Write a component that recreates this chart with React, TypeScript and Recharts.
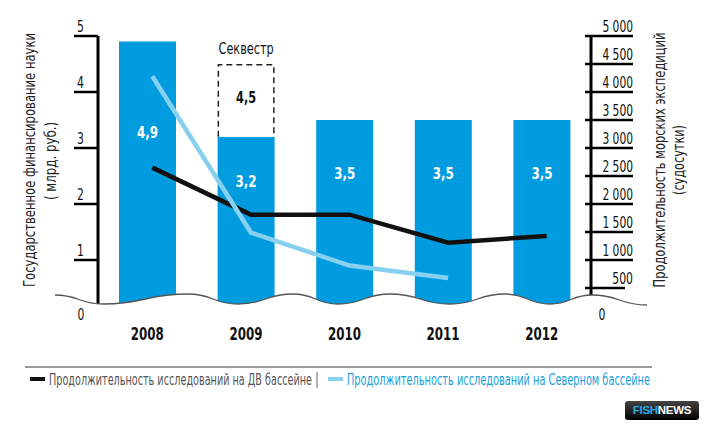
import React from 'react';
import { ComposedChart, Bar, Line, XAxis, YAxis, LabelList } from 'recharts';

// ---- data ----
const years = ['2008', '2009', '2010', '2011', '2012'];
const funding = [4.9, 3.2, 3.5, 3.5, 3.5]; // млрд руб.
const sequestrTotal: (number | null)[] = [null, 4.5, null, null, null];
const dvDays = [2650, 1810, 1810, 1310, 1430];
const northDays: (number | null)[] = [4280, 1490, 900, 680, null];
const leftTicks = [0, 1, 2, 3, 4, 5];
const rightTicks = [0, 500, 1000, 1500, 2000, 2500, 3000, 3500, 4000, 4500, 5000];
const dvName = 'Продолжительность исследований на ДВ бассейне';
const northName = 'Продолжительность исследований на Северном бассейне';
const sequestrName = 'Секвестр';
const leftTitle = ['Государственное финансирование науки', '( млрд. руб.)'];
const rightTitle = ['Продолжительность морских экспедиций', '(судосутки)'];

const data = years.map((year, i) => ({
  year,
  funding: funding[i],
  seq: sequestrTotal[i] != null ? (sequestrTotal[i] as number) - funding[i] : 0,
  seqTotal: sequestrTotal[i],
  dv: dvDays[i],
  north: northDays[i],
}));

// ---- styles ----
const FONT = "'Liberation Sans Narrow', 'DejaVu Sans Condensed', 'Roboto Condensed', sans-serif";
const BAR_BLUE = '#009cdf';
const LIGHT_BLUE = '#88d0f0';
const LEGEND_BLUE = '#1aa0dc';
const LABEL_DROP = [90, 44, 53, 53, 53];
const LEGEND_SX = 0.75;
const TITLE_SX = 0.8;

const fmt = (v: number) => String(v).replace('.', ',');
const fmtThousands = (v: number) =>
  v >= 1000 ? `${Math.floor(v / 1000)} ${String(v % 1000).padStart(3, '0')}` : String(v);
// narrow-font emulation: width of a numeric label
const numWidth = (s: string) => {
  let w = 0;
  for (const c of s) w += c === ' ' ? 3 : c === ',' ? 3.5 : 6.9;
  return w;
};

const LeftTick = (props: any) => {
  const { x, y, payload } = props;
  const v = payload.value;
  const s = String(v);
  if (v === 0) {
    return (
      <text x={x - 17} y={y + 4} textAnchor="middle" fontSize={15} fontFamily={FONT} fill="#111"
        textLength={numWidth(s)} lengthAdjust="spacingAndGlyphs">
        0
      </text>
    );
  }
  return (
    <g>
      <line x1={x - 24} x2={x} y1={y} y2={y} stroke="#000" strokeWidth={2.5} />
      <text x={x - 21} y={y - 4} fontSize={15} fontFamily={FONT} fill="#111"
        textLength={numWidth(s)} lengthAdjust="spacingAndGlyphs">
        {s}
      </text>
    </g>
  );
};

const RightTick = (props: any) => {
  const { x, y, payload } = props;
  const v = payload.value;
  if (v === 0) {
    return (
      <text x={x + 11} y={y + 4} textAnchor="middle" fontSize={15} fontFamily={FONT} fill="#111"
        textLength={numWidth('0')} lengthAdjust="spacingAndGlyphs">
        0
      </text>
    );
  }
  const s = fmtThousands(v);
  return (
    <g>
      <line x1={x - 6} x2={x + (v === 500 ? 34 : 42)} y1={y} y2={y} stroke="#000" strokeWidth={2.5} />
      <text x={x + 42} y={y - 4} textAnchor="end" fontSize={15} fontFamily={FONT} fill="#111"
        textLength={numWidth(s)} lengthAdjust="spacingAndGlyphs">
        {s}
      </text>
    </g>
  );
};

const XTick = (props: any) => {
  const { x, y, payload } = props;
  return (
    <text x={x} y={y + 24} textAnchor="middle" fontSize={17} fontWeight="bold" fontFamily={FONT} fill="#111"
      textLength={33} lengthAdjust="spacingAndGlyphs">
      {payload.value}
    </text>
  );
};

const BarValueLabel = (props: any) => {
  const { x, y, width, value, index } = props;
  return (
    <text
      x={x + width / 2}
      y={y + LABEL_DROP[index] + 6}
      textAnchor="middle"
      fontSize={16}
      fontWeight="bold"
      fontFamily={FONT}
      fill="#fff"
      textLength={21}
      lengthAdjust="spacingAndGlyphs"
    >
      {fmt(value)}
    </text>
  );
};

const SeqShape = (props: any) => {
  const { x, y, width, height } = props;
  if (!height || height <= 0) return null;
  return (
    <g>
      <rect x={x} y={y} width={width} height={height} fill="#fff" />
      <path
        d={`M${x + 0.75},${y + height} L${x + 0.75},${y + 0.75} L${x + width - 0.75},${y + 0.75} L${x + width - 0.75},${y + height}`}
        fill="none"
        stroke="#222"
        strokeWidth={1.5}
        strokeDasharray="6 4"
      />
    </g>
  );
};

const SeqLabel = (props: any) => {
  const { x, y, width, height, value } = props;
  if (value == null) return null;
  return (
    <g fontFamily={FONT}>
      <text x={x + width / 2} y={y - 10} textAnchor="middle" fontSize={16} fill="#111"
        textLength={55} lengthAdjust="spacingAndGlyphs">
        {sequestrName}
      </text>
      <text x={x + width / 2} y={y + height / 2 + 3} textAnchor="middle" fontSize={16} fontWeight="bold" fill="#111"
        textLength={20} lengthAdjust="spacingAndGlyphs">
        {fmt(value)}
      </text>
    </g>
  );
};

const VTitle = ({ x, y, len, text }: { x: number; y: number; len: number; text: string }) => (
  <g transform={`translate(${x},${y}) rotate(-90) scale(${TITLE_SX},1)`}>
    <text x={0} y={0} textAnchor="middle" textLength={len / TITLE_SX} lengthAdjust="spacingAndGlyphs">
      {text}
    </text>
  </g>
);

const LeftTitle = (props: any) => {
  const vb = props.viewBox || {};
  const cy = (vb.y ?? 36) + 124;
  return (
    <g fontFamily={FONT} fontSize={16} fill="#222">
      <VTitle x={35} y={cy} len={254} text={leftTitle[0]} />
      <VTitle x={56} y={cy + 1} len={78} text={leftTitle[1]} />
    </g>
  );
};

const RightTitle = (props: any) => {
  const vb = props.viewBox || {};
  const cy = (vb.y ?? 36) + 124;
  return (
    <g fontFamily={FONT} fontSize={16} fill="#222">
      <VTitle x={665} y={cy} len={255} text={rightTitle[0]} />
      <VTitle x={684} y={cy} len={70} text={rightTitle[1]} />
    </g>
  );
};

// decorative axis-break wave
const WAVE: [number, number][] = [
  [55, 295], [103, 304], [188, 294], [238, 304], [293, 294], [338, 304],
  [390, 294], [450, 304], [505, 294], [550, 304], [592, 295], [647, 305],
];
function wavePath(pts: [number, number][]) {
  let d = `M${pts[0][0]},${pts[0][1]}`;
  for (let i = 1; i < pts.length; i++) {
    const [x0, y0] = pts[i - 1];
    const [x1, y1] = pts[i];
    const h = (x1 - x0) / 2;
    d += ` C${x0 + h},${y0} ${x1 - h},${y1} ${x1},${y1}`;
  }
  return d;
}

export default function App() {
  const wave = wavePath(WAVE);
  return (
    <div style={{ position: 'absolute', left: 0, top: 0, width: 709, height: 430, background: '#fff', overflow: 'hidden' }}>
      <ComposedChart width={709} height={430} data={data} margin={{ top: 36, right: 0, bottom: 84, left: 0 }}>
        <XAxis
          xAxisId="bars"
          dataKey="year"
          axisLine={false}
          tickLine={false}
          tickSize={0}
          tickMargin={0}
          height={30}
          tick={<XTick />}
          interval={0}
        />
        <XAxis xAxisId="lines" dataKey="year" hide padding={{ left: 5, right: -5 }} />
        <YAxis
          yAxisId="left"
          orientation="left"
          width={98}
          domain={[0, 5]}
          ticks={leftTicks}
          interval={0}
          tickSize={0}
          tickMargin={0}
          tickLine={false}
          axisLine={{ stroke: '#000', strokeWidth: 3 }}
          tick={<LeftTick />}
          label={{ content: <LeftTitle /> }}
        />
        <YAxis
          yAxisId="right"
          orientation="right"
          width={118}
          domain={[0, 5000]}
          ticks={rightTicks}
          interval={0}
          tickSize={0}
          tickMargin={0}
          tickLine={false}
          axisLine={{ stroke: '#000', strokeWidth: 3 }}
          tick={<RightTick />}
          label={{ content: <RightTitle /> }}
        />
        <Bar
          xAxisId="bars"
          yAxisId="left"
          dataKey="funding"
          stackId="s"
          fill={BAR_BLUE}
          barSize={57}
          isAnimationActive={false}
        >
          <LabelList dataKey="funding" content={<BarValueLabel />} />
        </Bar>
        <Bar
          xAxisId="bars"
          yAxisId="left"
          dataKey="seq"
          stackId="s"
          barSize={57}
          shape={<SeqShape />}
          isAnimationActive={false}
        >
          <LabelList dataKey="seqTotal" content={<SeqLabel />} />
        </Bar>
        <Line
          xAxisId="lines"
          yAxisId="right"
          type="linear"
          dataKey="dv"
          name={dvName}
          stroke="#111"
          strokeWidth={4.5}
          dot={false}
          activeDot={false}
          isAnimationActive={false}
        />
        <Line
          xAxisId="lines"
          yAxisId="right"
          type="linear"
          dataKey="north"
          name={northName}
          stroke={LIGHT_BLUE}
          strokeWidth={4.5}
          dot={false}
          activeDot={false}
          isAnimationActive={false}
        />
      </ComposedChart>

      <svg width={709} height={430} style={{ position: 'absolute', left: 0, top: 0, pointerEvents: 'none' }}>
        <defs>
          <clipPath id="coverClip">
            <rect x={94} y={280} width={501} height={50} />
          </clipPath>
        </defs>
        <path d={`${wave} L647,322 L55,322 Z`} fill="#fff" clipPath="url(#coverClip)" />
        <path d={wave} fill="none" stroke="#555" strokeWidth={1.3} />
        {/* legend */}
        <line x1={25} x2={652} y1={367} y2={367} stroke="#9a9a9a" strokeWidth={2} />
        <line x1={30} x2={45} y1={379} y2={379} stroke="#111" strokeWidth={4} />
        <g transform={`translate(49,385) scale(${LEGEND_SX},1)`}>
          <text x={0} y={0} fontFamily={FONT} fontSize={15} fill="#555"
            textLength={263 / LEGEND_SX} lengthAdjust="spacingAndGlyphs">
            {dvName}
          </text>
        </g>
        <line x1={317} x2={317} y1={372} y2={388} stroke="#666" strokeWidth={1} />
        <line x1={328} x2={343} y1={379} y2={379} stroke={LIGHT_BLUE} strokeWidth={4} />
        <g transform={`translate(347,385) scale(${LEGEND_SX},1)`}>
          <text x={0} y={0} fontFamily={FONT} fontSize={15} fill={LEGEND_BLUE}
            textLength={303 / LEGEND_SX} lengthAdjust="spacingAndGlyphs">
            {northName}
          </text>
        </g>
      </svg>

      <div
        style={{
          position: 'absolute',
          left: 625,
          top: 401,
          width: 74,
          height: 19,
          borderRadius: 3,
          background: 'linear-gradient(#444, #000)',
          fontFamily: "'Liberation Sans', Arial, sans-serif",
          fontWeight: 'bold',
          fontSize: 11.5,
          lineHeight: '19px',
          textAlign: 'center',
          letterSpacing: -0.3,
        }}
      >
        <span style={{ color: '#2aa9e1' }}>FISH</span>
        <span style={{ color: '#fff' }}>NEWS</span>
      </div>
    </div>
  );
}
